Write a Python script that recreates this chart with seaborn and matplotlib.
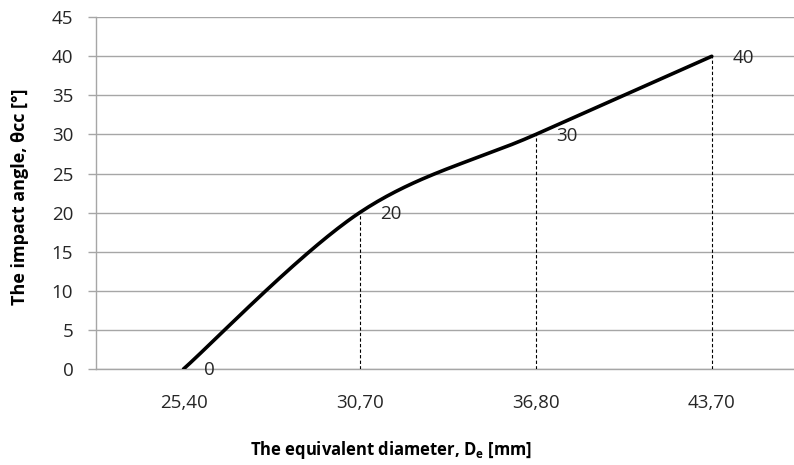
import numpy as np
import pandas as pd
import matplotlib
matplotlib.use("Agg")
import matplotlib.pyplot as plt
import seaborn as sns

# Equivalent diameter categories and the matching impact angle
diameters = ["25,40", "30,70", "36,80", "43,70"]
angles = [0, 20, 30, 40]
y_ticks = [0, 5, 10, 15, 20, 25, 30, 35, 40, 45]

sns.set_theme(style="white")
plt.rcParams["font.family"] = ["Open Sans", "DejaVu Sans"]

fig = plt.figure(figsize=(7.94, 4.65), dpi=100)
ax = fig.add_axes([0.1203, 0.2065, 0.887, 0.7565])

xs = np.arange(len(diameters), dtype=float)
ys = np.array(angles, dtype=float)


def smooth_curve(px, py, n=60):
    """Catmull-Rom style smoothing through the given points."""
    P = np.column_stack([px, py])
    P = np.vstack([P[0], P, P[-1]])
    out = []
    for i in range(1, len(P) - 2):
        p0, p1, p2, p3 = P[i - 1], P[i], P[i + 1], P[i + 2]
        c1 = p1 + (p2 - p0) / 6.0
        c2 = p2 - (p3 - p1) / 6.0
        t = np.linspace(0, 1, n)[:, None]
        seg = ((1 - t) ** 3) * p1 + 3 * ((1 - t) ** 2) * t * c1 + 3 * (1 - t) * t ** 2 * c2 + t ** 3 * p2
        out.append(seg if i == 1 else seg[1:])
    return np.vstack(out)


curve = smooth_curve(xs, ys)
df = pd.DataFrame({"x": curve[:, 0], "y": curve[:, 1]})
sns.lineplot(data=df, x="x", y="y", ax=ax, color="black", linewidth=2.6,
             sort=False, estimator=None, zorder=4)

# dashed drop lines and value labels
for x, y in zip(xs, ys):
    if y > 0:
        ax.plot([x, x], [0, y], color="black", linestyle=(0, (3, 2)),
                linewidth=0.8, zorder=3)
    ax.annotate(f"{int(y)}", xy=(x, y), xytext=(15, -1), textcoords="offset points",
                ha="left", va="center", fontsize=13.5, color="#262626", zorder=5)

ax.set_xlim(-0.5, len(diameters) - 0.5)
ax.set_ylim(0, 45)
ax.set_yticks(y_ticks)
ax.set_xticks(xs)
ax.set_xticklabels(diameters)

grid_c = "#a6a6a6"
ax.grid(axis="y", color=grid_c, linewidth=1.0)
ax.grid(axis="x", visible=False)
for side in ["top", "right"]:
    ax.spines[side].set_visible(False)
for side in ["left", "bottom"]:
    ax.spines[side].set_color(grid_c)
    ax.spines[side].set_linewidth(1.0)
ax.set_axisbelow(True)

ax.tick_params(axis="y", length=6, width=1, color=grid_c, direction="out",
               pad=10, labelsize=13.5, labelcolor="#262626", left=True)
ax.tick_params(axis="x", length=0, pad=18, labelsize=13.5, labelcolor="#262626")

ax.set_ylabel("The impact angle, θcc [°]", fontsize=13, fontweight="bold", color="black")
ax.set_xlabel("The equivalent diameter, D$_{\\mathregular{e}}$ [mm]", fontsize=12,
              fontweight="bold", color="black")
ax.yaxis.set_label_coords(-0.094, 0.49)
ax.xaxis.set_label_coords(0.42, -0.2)

fig.savefig("out.png", dpi=100)
